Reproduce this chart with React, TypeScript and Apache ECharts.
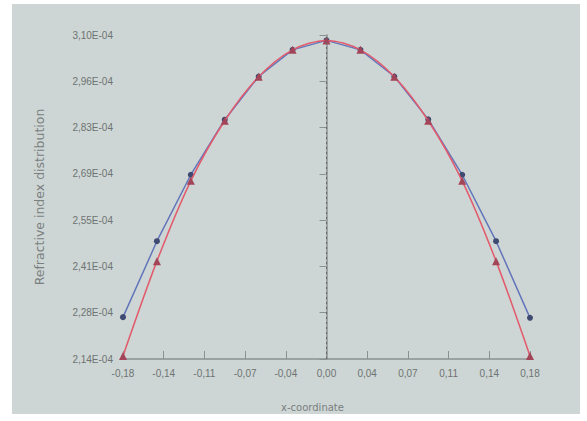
import React, { useEffect, useRef } from "react";
import * as echarts from "echarts";

// x-coordinates of the sampled points
const xCoords = [-0.18, -0.15, -0.12, -0.09, -0.06, -0.03, 0, 0.03, 0.06, 0.09, 0.12, 0.15, 0.18];
// refractive index (units of 1E-04)
const blueSeries = [2.264, 2.489, 2.686, 2.849, 2.977, 3.056, 3.084, 3.056, 2.977, 2.850, 2.686, 2.489, 2.262];
const redSeries = [2.149, 2.430, 2.668, 2.846, 2.976, 3.056, 3.084, 3.056, 2.976, 2.846, 2.668, 2.430, 2.149];

// axis definitions
const yMin = 2.14; // E-04
const yMax = 3.10; // E-04
const ySteps = 7;
const xMinMilli = -180;
const xMaxMilli = 180;
const xStepMilli = 36;

const xAxisName = "x-coordinate";
const yAxisName = "Refractive index distribution";

export default function App() {
  const ref = useRef<HTMLDivElement>(null);

  useEffect(() => {
    if (!ref.current) return;
    const chart = echarts.init(ref.current, undefined, { renderer: "svg" });
    const yStep = (yMax - yMin) / ySteps;
    const toY = (v: number) => (v - yMin) / yStep;
    const fmtNum = (n: number) => n.toFixed(2).replace(".", ",");

    const blueData = xCoords.map((x, i) => [Math.round(x * 1000), toY(blueSeries[i])]);
    const redData = xCoords.map((x, i) => [Math.round(x * 1000), toY(redSeries[i])]);

    const labelFont = { fontFamily: "Liberation Sans", fontSize: 10, color: "#6e7373" };

    chart.setOption({
      animation: false,
      backgroundColor: "#ffffff",
      graphic: [
        {
          type: "rect",
          z: -10,
          silent: true,
          shape: { x: 12, y: 4, width: 568, height: 410 },
          style: { fill: "#cdd6d4" },
        },
      ],
      grid: { left: 123, right: 57, top: 35, bottom: 62, containLabel: false },
      xAxis: {
        type: "value",
        min: xMinMilli,
        max: xMaxMilli,
        interval: xStepMilli,
        name: xAxisName,
        nameLocation: "middle",
        nameGap: 43,
        nameTextStyle: { fontFamily: "DejaVu Sans", fontSize: 10, color: "#7a7f7f", padding: [0, 28, 0, 0] },
        splitLine: { show: false },
        axisLine: { lineStyle: { color: "#8a9190", width: 1.5 } },
        axisTick: { inside: true, length: 8, lineStyle: { color: "#8a9190" } },
        axisLabel: {
          ...labelFont,
          margin: 9,
          formatter: (v: number) => fmtNum(v / 1000),
        },
      },
      yAxis: {
        type: "value",
        min: 0,
        max: ySteps,
        interval: 1,
        name: yAxisName,
        nameLocation: "middle",
        nameGap: 77,
        nameRotate: 90,
        nameTextStyle: { fontFamily: "DejaVu Sans", fontSize: 12.5, color: "#7a7f7f" },
        splitLine: { show: false },
        axisLine: { show: true, lineStyle: { color: "#8a9190", width: 1.5 } },
        axisTick: { show: true, inside: false, length: 7, lineStyle: { color: "#8a9190" } },
        axisLabel: {
          ...labelFont,
          margin: 10,
          formatter: (v: number) => fmtNum(yMin + v * yStep) + "E-04",
        },
      },
      series: [
        {
          type: "line",
          name: "blue",
          data: blueData,
          smooth: false,
          symbol: "circle",
          symbolSize: 6,
          itemStyle: { color: "#3f4a72" },
          lineStyle: { color: "#6275bb", width: 1.5 },
          z: 3,
          markLine: {
            silent: true,
            symbol: "none",
            label: { show: false },
            lineStyle: { color: "#666", type: [2, 3], width: 1 },
            data: [{ xAxis: 0 }],
          },
        },
        {
          type: "line",
          name: "red",
          data: redData,
          smooth: 0.3,
          symbol: "triangle",
          symbolSize: 8,
          itemStyle: { color: "#a34458" },
          lineStyle: { color: "#e25a6c", width: 1.5 },
          z: 4,
        },
      ],
    });
    return () => chart.dispose();
  }, []);

  return (
    <div
      ref={ref}
      style={{ position: "absolute", left: 0, top: 0, width: 587, height: 421 }}
    />
  );
}
